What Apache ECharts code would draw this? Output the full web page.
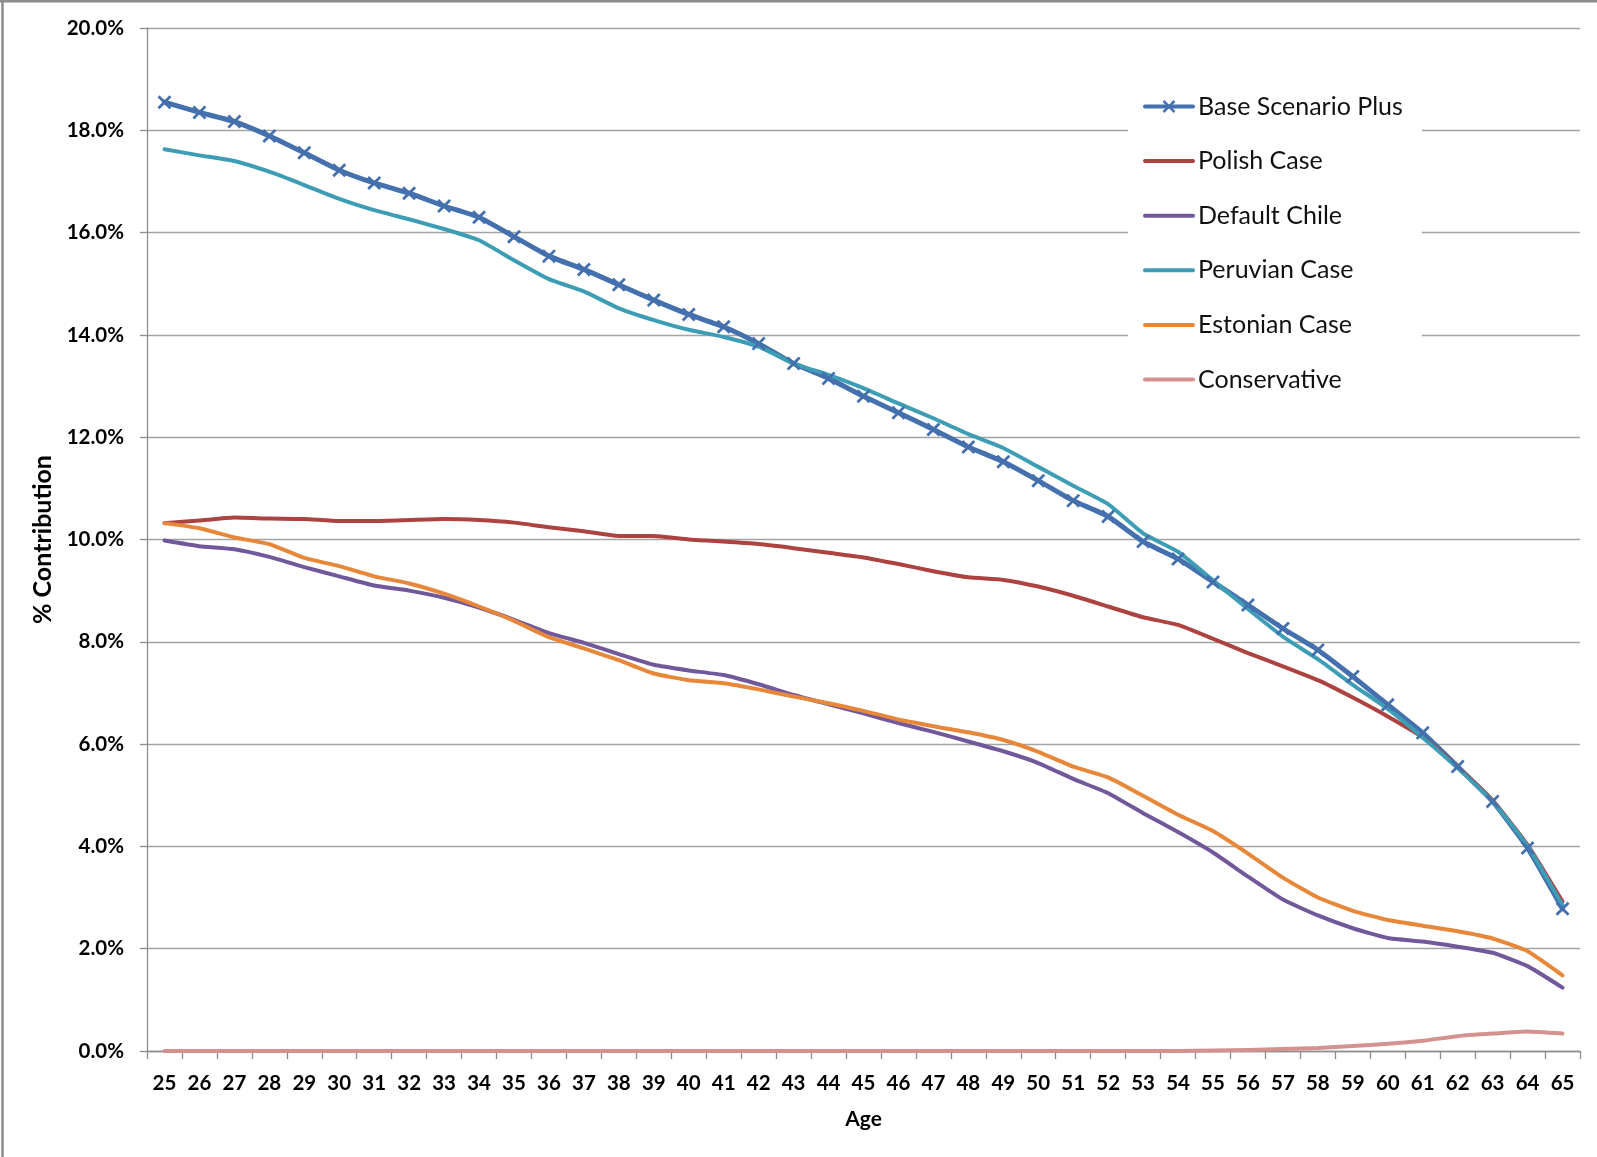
<!DOCTYPE html>
<html>
<head>
<meta charset="utf-8">
<title>% Contribution by Age</title>
<script src="https://cdn.jsdelivr.net/npm/echarts@6/dist/echarts.min.js"></script>
<style>
  html, body { margin: 0; padding: 0; background: #ffffff; }
  #chart { width: 1597px; height: 1157px; }
</style>
</head>
<body>
<div id="chart"></div>
<script>
// Age categories on the x axis
const ages = ['25','26','27','28','29','30','31','32','33','34','35','36','37','38','39','40',
  '41','42','43','44','45','46','47','48','49','50','51','52','53','54','55','56','57','58',
  '59','60','61','62','63','64','65'];

// Contribution rates (in percent) per age, one array per scenario
const baseScenarioPlus = [18.55, 18.35, 18.17, 17.89, 17.56, 17.22, 16.97, 16.77, 16.52, 16.30,
  15.92, 15.54, 15.28, 14.98, 14.68, 14.40, 14.16, 13.83, 13.44, 13.15,
  12.80, 12.48, 12.15, 11.81, 11.52, 11.15, 10.76, 10.45, 9.96, 9.62,
  9.17, 8.72, 8.26, 7.84, 7.32, 6.77, 6.22, 5.56, 4.88, 3.97, 2.78];

const polishCase = [10.32, 10.37, 10.43, 10.41, 10.40, 10.36, 10.36, 10.38, 10.40, 10.38,
  10.33, 10.24, 10.16, 10.07, 10.07, 10.00, 9.96, 9.91, 9.83, 9.74,
  9.65, 9.52, 9.38, 9.26, 9.21, 9.08, 8.90, 8.69, 8.48, 8.33,
  8.06, 7.78, 7.52, 7.25, 6.91, 6.54, 6.13, 5.55, 4.90, 4.03, 2.92];

const defaultChile = [9.98, 9.87, 9.81, 9.66, 9.46, 9.28, 9.10, 9.00, 8.86, 8.67,
  8.43, 8.17, 7.98, 7.76, 7.55, 7.44, 7.35, 7.17, 6.96, 6.78,
  6.60, 6.41, 6.24, 6.05, 5.86, 5.63, 5.32, 5.04, 4.65, 4.28,
  3.88, 3.41, 2.96, 2.65, 2.40, 2.21, 2.14, 2.04, 1.92, 1.66, 1.24];

const peruvianCase = [17.63, 17.51, 17.40, 17.19, 16.93, 16.66, 16.44, 16.26, 16.07, 15.85,
  15.46, 15.09, 14.85, 14.52, 14.29, 14.10, 13.96, 13.77, 13.44, 13.22,
  12.96, 12.66, 12.37, 12.06, 11.79, 11.42, 11.05, 10.69, 10.12, 9.76,
  9.20, 8.64, 8.10, 7.66, 7.16, 6.69, 6.13, 5.53, 4.88, 4.01, 2.85];

const estonianCase = [10.32, 10.22, 10.04, 9.91, 9.64, 9.48, 9.28, 9.14, 8.94, 8.69,
  8.41, 8.09, 7.87, 7.64, 7.38, 7.25, 7.19, 7.07, 6.93, 6.80,
  6.65, 6.48, 6.35, 6.23, 6.08, 5.85, 5.56, 5.35, 4.99, 4.62,
  4.30, 3.86, 3.39, 3.00, 2.74, 2.56, 2.45, 2.34, 2.20, 1.95, 1.48];

const conservative = [0, 0, 0, 0, 0, 0, 0, 0, 0, 0,
  0, 0, 0, 0, 0, 0, 0, 0, 0, 0,
  0, 0, 0, 0, 0, 0, 0, 0, 0, 0,
  0.01, 0.02, 0.04, 0.06, 0.10, 0.14, 0.20, 0.29, 0.34, 0.38, 0.34];

// Series names shown in the legend
const seriesNames = ['Base Scenario Plus', 'Polish Case', 'Default Chile',
  'Peruvian Case', 'Estonian Case', 'Conservative'];

const seriesColors = ['#4470AE', '#AC4340', '#71589B', '#3D9DB5', '#E6873A', '#D4928F'];

const crossMarker = 'path://M0,1.4L1.4,0L5,3.6L8.6,0L10,1.4L6.4,5L10,8.6L8.6,10L5,6.4L1.4,10L0,8.6L3.6,5Z';

const chart = echarts.init(document.getElementById('chart'), null, { renderer: 'canvas' });

function lineSeries(idx, data, opts) {
  return Object.assign({
    name: seriesNames[idx],
    type: 'line',
    data: data,
    smooth: 0.15,
    symbol: 'none',
    showSymbol: false,
    color: seriesColors[idx],
    lineStyle: { color: seriesColors[idx], width: 4, cap: 'round', join: 'round' },
    emphasis: { disabled: true },
    animation: false
  }, opts || {});
}

const hiddenIcon = { opacity: 0 };

chart.setOption({
  backgroundColor: '#ffffff',
  animation: false,
  textStyle: { fontFamily: 'Lato, "Open Sans", sans-serif' },
  grid: { left: 147, right: 17, top: 28, bottom: 106, containLabel: false },
  legend: {
    orient: 'vertical',
    left: 1128,
    top: 73.5,
    padding: [18, 19, 24, 15],
    backgroundColor: '#ffffff',
    itemWidth: 48,
    itemHeight: 16,
    itemGap: 24.6,
    lineStyle: { width: 4 },
    textStyle: { fontFamily: 'Lato, sans-serif', fontSize: 25, color: '#111111', lineHeight: 30 },
    data: [
      { name: seriesNames[0] },
      { name: seriesNames[1], itemStyle: hiddenIcon },
      { name: seriesNames[2], itemStyle: hiddenIcon },
      { name: seriesNames[3], itemStyle: hiddenIcon },
      { name: seriesNames[4], itemStyle: hiddenIcon },
      { name: seriesNames[5], itemStyle: hiddenIcon }
    ],
    selectedMode: false
  },
  xAxis: {
    type: 'category',
    data: ages,
    boundaryGap: true,
    name: 'Age',
    nameLocation: 'middle',
    nameGap: 58,
    nameTextStyle: { fontFamily: 'Lato, sans-serif', fontWeight: 'bold', fontSize: 21, color: '#000000' },
    axisLine: { show: true, lineStyle: { color: '#8c8c8c', width: 1.3 } },
    axisTick: { show: true, inside: false, length: 8, alignWithLabel: false, lineStyle: { color: '#8c8c8c', width: 1.3 } },
    axisLabel: { interval: 0, margin: 22, fontFamily: 'Lato, sans-serif', fontWeight: 'bold', fontSize: 20.5, color: '#000000' },
    splitLine: { show: false }
  },
  yAxis: {
    type: 'value',
    min: 0,
    max: 20,
    interval: 2,
    name: '% Contribution',
    nameLocation: 'middle',
    nameGap: 91,
    nameRotate: 90,
    nameTextStyle: { fontFamily: 'Lato, sans-serif', fontWeight: 'bold', fontSize: 25, color: '#000000' },
    axisLine: { show: true, lineStyle: { color: '#8c8c8c', width: 1.3 } },
    axisTick: { show: true, inside: false, length: 7, lineStyle: { color: '#8c8c8c', width: 1.3 } },
    axisLabel: {
      margin: 23,
      fontFamily: 'Lato, sans-serif', fontWeight: 'bold', fontSize: 20.5, color: '#000000',
      formatter: function (v) { return v.toFixed(1) + '%'; }
    },
    splitLine: { show: true, lineStyle: { color: '#a3a3a3', width: 1.3 } }
  },
  graphic: [
    { type: 'line', shape: { x1: 2.5, y1: 0, x2: 2.5, y2: 1157 }, style: { stroke: '#8c8c8c', lineWidth: 2.5 }, silent: true },
    { type: 'line', shape: { x1: 0, y1: 1.2, x2: 1597, y2: 1.2 }, style: { stroke: '#8c8c8c', lineWidth: 2.5 }, silent: true }
  ],
  series: [
    lineSeries(0, baseScenarioPlus, {
      symbol: crossMarker,
      showSymbol: true,
      symbolSize: 14,
      itemStyle: { color: seriesColors[0] },
      lineStyle: { color: seriesColors[0], width: 5, cap: 'round', join: 'round' }
    }),
    lineSeries(1, polishCase),
    lineSeries(2, defaultChile),
    lineSeries(3, peruvianCase),
    lineSeries(4, estonianCase),
    lineSeries(5, conservative)
  ]
});
</script>
</body>
</html>
